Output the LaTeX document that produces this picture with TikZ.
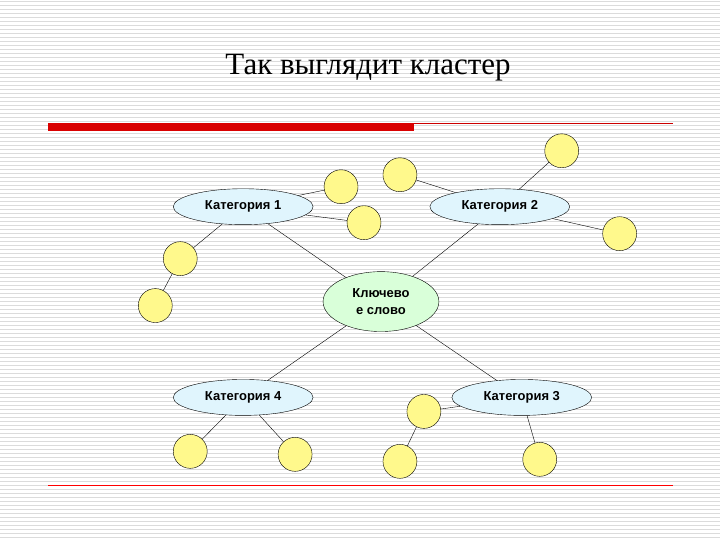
\documentclass[tikz,border=0pt]{standalone}
\usepackage{fontspec}
\setmainfont{Liberation Serif}
\newfontfamily\arialf{Liberation Sans}
\begin{document}
\begin{tikzpicture}[x=1pt,y=-1pt,
  cat/.style={ellipse,draw,fill=cyan!12,minimum width=140pt,minimum height=36pt,inner sep=0pt,font=\arialf\bfseries\fontsize{13}{15}\selectfont},
  kw/.style={ellipse,draw,fill=green!15,minimum width=116pt,minimum height=60pt,inner sep=0pt,align=center,font=\arialf\bfseries\fontsize{13}{17}\selectfont},
  leaf/.style={circle,draw,fill=yellow!45,minimum size=34pt,inner sep=0pt}]
\usetikzlibrary{shapes.geometric}
\fill[white] (0,0) rectangle (720,540);
\foreach \y in {2,6,...,538} \draw[black!14,line width=1pt] (0,\y) -- (720,\y);
\useasboundingbox (0,0) rectangle (720,540);
\node[font=\fontsize{31}{34}\selectfont] (title) at (368,68) {Так выглядит кластер};
\fill[red!85!black] (48,123) rectangle (414,131);
\draw[red!80!black,line width=0.8pt] (414,123.5) -- (673,123.5);
\draw[red,line width=1pt] (48,486) -- (673,486);
\node[cat] (c1) at (243,207) {Категория 1};
\node[cat] (c2) at (500,207) {Категория 2};
\node[kw] (k) at (381,302) {Ключево\\е слово};
\node[cat] (c4) at (243,398) {Категория 4};
\node[cat] (c3) at (522,398) {Категория 3};
\foreach \n/\x/\y in {a/341/187,b/364/223,c/400/175,d/562/151,e/620/234,f/180/259,g/155/306,h/190/452,i/295/455,j/400/462,l/424/412,m/540/460}
  \node[leaf] (\n) at (\x,\y) {};
\draw (c1) -- (a); \draw (c1) -- (b); \draw (c1) -- (f); \draw (f) -- (g); \draw (c1) -- (k);
\draw (c2) -- (c); \draw (c2) -- (d); \draw (c2) -- (e); \draw (c2) -- (k);
\draw (k) -- (c4); \draw (k) -- (c3);
\draw (c4) -- (h); \draw (c4) -- (i);
\draw (c3) -- (l); \draw (l) -- (j); \draw (c3) -- (m);
\end{tikzpicture}
\end{document}
